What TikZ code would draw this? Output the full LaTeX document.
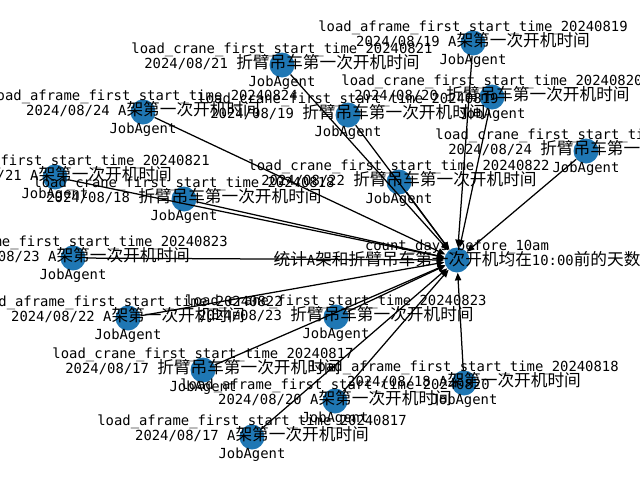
\documentclass[tikz,border=0pt]{standalone}
\usepackage{fontspec}
\setmonofont{DejaVu Sans Mono}
\newfontfamily\cjkfont{Noto Sans CJK SC}
\usetikzlibrary{arrows.meta}
\definecolor{nxblue}{RGB}{31,119,180}
\newcommand{\zh}[1]{{\fontsize{12pt}{13pt}\cjkfont #1}}
\newcommand{\lblfont}{\fontsize{10pt}{13pt}\ttfamily\lineskiplimit=-20pt\relax\lineskip=0pt\relax}
\tikzset{
  agent/.style={circle, fill=nxblue, minimum size=18pt, inner sep=0pt},
  lbl/.style={font=\lblfont, align=center, inner sep=0pt, yshift=-0.8pt},
  flow/.style={-{Triangle[length=5.5pt,width=4.5pt]}, line width=0.9pt, black},
}
\newcommand{\aframe}[1]{load\_aframe\_first\_start\_time\_2024#1}
\newcommand{\crane}[1]{load\_crane\_first\_start\_time\_2024#1}

\begin{document}
\begin{tikzpicture}[x=0.72pt, y=-0.72pt]
\useasboundingbox (0,0) rectangle (640,480);

% agents
\node[agent] (ctr) at (457,260) {};
\node[agent] (a17) at (252,437) {};
\node[agent] (a18) at (464,383) {};
\node[agent] (a19) at (473,43) {};
\node[agent] (a20) at (335,401) {};
\node[agent] (a21) at (55,177) {};
\node[agent] (a22) at (128,318) {};
\node[agent] (a23) at (73,258) {};
\node[agent] (a24) at (143,112) {};
\node[agent] (c17) at (203,370) {};
\node[agent] (c18) at (184,199) {};
\node[agent] (c19) at (348,115) {};
\node[agent] (c20) at (492,97) {};
\node[agent] (c21) at (282,65) {};
\node[agent] (c22) at (399,182) {};
\node[agent] (c23) at (336,317) {};
\node[agent] (c24) at (586,151) {};

% edges into the counter
\foreach \s in {a17,a18,a19,a20,a21,a22,a23,a24,c17,c18,c19,c20,c21,c22,c23,c24}
  \draw[flow] (\s) -- (ctr);

% labels
\node[lbl] at ([yshift=-1.5pt]ctr) {count\_days\_before\_10am\\[-2pt]\zh{统计}A\zh{架和折臂吊车第一次开机均在}10:00\zh{前的天数}\\\phantom{JobAgent}};
\node[lbl] at (a17) {\aframe{0817}\\[-2pt]2024/08/17 A\zh{架第一次开机时间}\\JobAgent};
\node[lbl] at (a18) {\aframe{0818}\\[-2pt]2024/08/18 A\zh{架第一次开机时间}\\JobAgent};
\node[lbl] at (a19) {\aframe{0819}\\[-2pt]2024/08/19 A\zh{架第一次开机时间}\\JobAgent};
\node[lbl] at (a20) {\aframe{0820}\\[-2pt]2024/08/20 A\zh{架第一次开机时间}\\JobAgent};
\node[lbl] at (a21) {\aframe{0821}\\[-2pt]2024/08/21 A\zh{架第一次开机时间}\\JobAgent};
\node[lbl] at (a22) {\aframe{0822}\\[-2pt]2024/08/22 A\zh{架第一次开机时间}\\JobAgent};
\node[lbl] at (a23) {\aframe{0823}\\[-2pt]2024/08/23 A\zh{架第一次开机时间}\\JobAgent};
\node[lbl] at (a24) {\aframe{0824}\\[-2pt]2024/08/24 A\zh{架第一次开机时间}\\JobAgent};
\node[lbl] at (c17) {\crane{0817}\\[-2pt]2024/08/17 \zh{折臂吊车第一次开机时间}\\JobAgent};
\node[lbl] at (c18) {\crane{0818}\\[-2pt]2024/08/18 \zh{折臂吊车第一次开机时间}\\JobAgent};
\node[lbl] at (c19) {\crane{0819}\\[-2pt]2024/08/19 \zh{折臂吊车第一次开机时间}\\JobAgent};
\node[lbl] at (c20) {\crane{0820}\\[-2pt]2024/08/20 \zh{折臂吊车第一次开机时间}\\JobAgent};
\node[lbl] at (c21) {\crane{0821}\\[-2pt]2024/08/21 \zh{折臂吊车第一次开机时间}\\JobAgent};
\node[lbl] at (c22) {\crane{0822}\\[-2pt]2024/08/22 \zh{折臂吊车第一次开机时间}\\JobAgent};
\node[lbl] at (c23) {\crane{0823}\\[-2pt]2024/08/23 \zh{折臂吊车第一次开机时间}\\JobAgent};
\node[lbl] at (c24) {\crane{0824}\\[-2pt]2024/08/24 \zh{折臂吊车第一次开机时间}\\JobAgent};

\end{tikzpicture}
\end{document}
